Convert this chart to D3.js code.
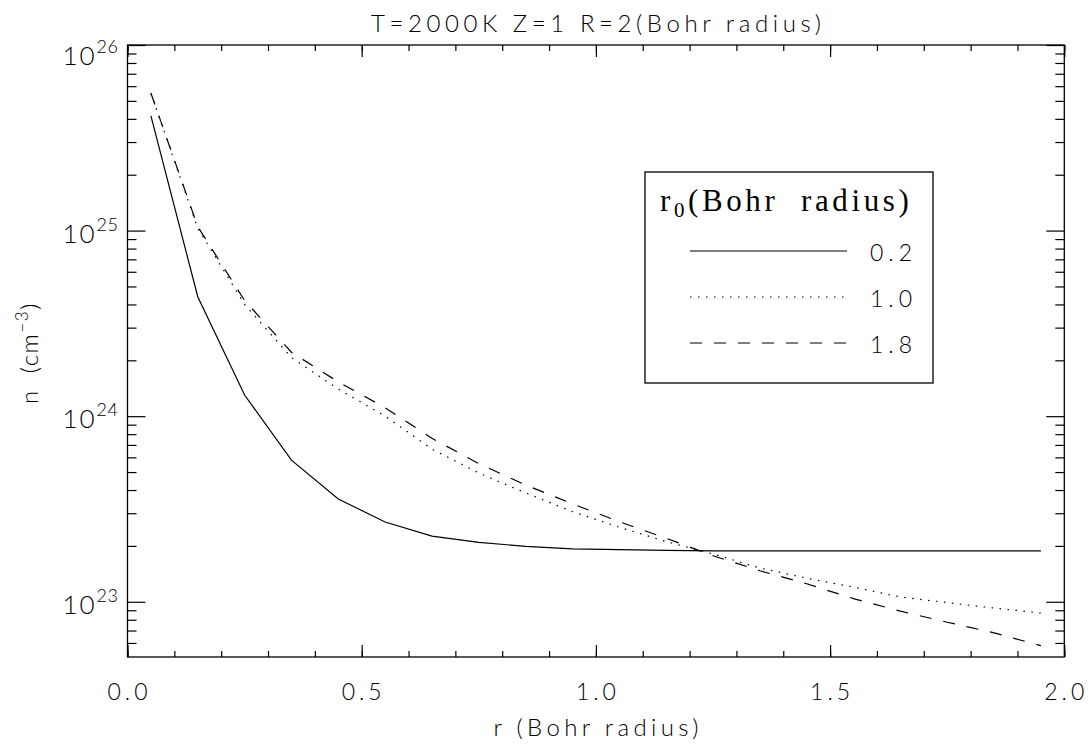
<!DOCTYPE html>
<html>
<head>
<meta charset="utf-8">
<script src="https://cdn.jsdelivr.net/npm/d3@7"></script>
<style>
  body { margin: 0; background: #fff; }
  svg { display: block; }
  text { font-family: Lato, "DejaVu Sans", sans-serif; font-weight: 300; fill: #000; }
  .legtitle { font-family: "Liberation Serif", "DejaVu Serif", serif; font-weight: 400; white-space: pre; }
  .ytitle { white-space: pre; }
</style>
</head>
<body>
<svg width="1092" height="746"></svg>
<script>
// radius points (Bohr radius)
const rVals = [0.05, 0.15, 0.25, 0.35, 0.45, 0.55, 0.65, 0.75, 0.85, 0.95,
               1.05, 1.15, 1.25, 1.35, 1.45, 1.55, 1.65, 1.75, 1.85, 1.95];

// density n (cm^-3) for each r0
const nR02 = [4.15e25, 4.4e24, 1.3e24, 5.8e23, 3.58e23, 2.69e23, 2.26e23, 2.09e23, 1.99e23, 1.93e23,
              1.91e23, 1.89e23, 1.88e23, 1.88e23, 1.88e23, 1.88e23, 1.88e23, 1.88e23, 1.88e23, 1.88e23];
const nR10 = [5.5e25, 1.03e25, 4.0e24, 2.07e24, 1.40e24, 1.0e24, 6.65e23, 4.94e23, 3.86e23, 3.06e23,
              2.52e23, 2.11e23, 1.81e23, 1.52e23, 1.34e23, 1.20e23, 1.06e23, 9.9e22, 9.25e22, 8.7e22];
const nR18 = [5.5e25, 1.05e25, 4.2e24, 2.21e24, 1.53e24, 1.11e24, 7.6e23, 5.55e23, 4.26e23, 3.37e23,
              2.70e23, 2.20e23, 1.77e23, 1.47e23, 1.25e23, 1.04e23, 8.9e22, 7.76e22, 6.8e22, 5.8e22];

const seriesNames = ['0.2', '1.0', '1.8'];
const seriesVals = [nR02, nR10, nR18];
const dashes = [null, '1.5,6.5', '12,12'];

const xMajor = ['0.0', '0.5', '1.0', '1.5', '2.0'];
const yMajorExp = [23, 24, 25, 26];

const svg = d3.select('svg');
const margin = {top: 45, right: 27.7, bottom: 89, left: 127.5};
const width = +svg.attr('width');
const height = +svg.attr('height');
const innerW = width - margin.left - margin.right;
const innerH = height - margin.top - margin.bottom;

const g = svg.append('g')
  .attr('transform', `translate(${margin.left},${margin.top})`);

//scales
const x = d3.scaleLinear().domain([0, 2]).range([0, innerW]);
const y = d3.scaleLog().domain([5.04e22, 1e26]).range([innerH, 0]);

//tick positions
const xMinor = d3.range(0, 21).map(i => i / 10);
const yMinor = [];
[22, 23, 24, 25].forEach(e => {
  for (let k = 2; k <= 9; k++) {
    const v = k * Math.pow(10, e);
    if (v >= 5.04e22 && v <= 1e26) yMinor.push(v);
  }
});
const yMajor = yMajorExp.map(e => Math.pow(10, e));

//helper to style axis
const styleAxis = sel => {
  sel.select('.domain').remove();
  sel.selectAll('.tick line').attr('stroke', '#000').attr('stroke-width', 1.2);
  sel.selectAll('.tick text').remove();
};

//x axes bottom & top (major + minor)
g.append('g').attr('transform', `translate(0,${innerH})`)
  .call(d3.axisBottom(x).tickValues(xMinor).tickSize(-6)).call(styleAxis);
g.append('g').attr('transform', `translate(0,${innerH})`)
  .call(d3.axisBottom(x).tickValues(xMajor.map(Number)).tickSize(-12)).call(styleAxis);
g.append('g')
  .call(d3.axisTop(x).tickValues(xMinor).tickSize(-6)).call(styleAxis);
g.append('g')
  .call(d3.axisTop(x).tickValues(xMajor.map(Number)).tickSize(-12)).call(styleAxis);

//y axes left & right
g.append('g').call(d3.axisLeft(y).tickValues(yMinor).tickSize(-9)).call(styleAxis);
g.append('g').call(d3.axisLeft(y).tickValues(yMajor).tickSize(-18)).call(styleAxis);
g.append('g').attr('transform', `translate(${innerW},0)`)
  .call(d3.axisRight(y).tickValues(yMinor).tickSize(-9)).call(styleAxis);
g.append('g').attr('transform', `translate(${innerW},0)`)
  .call(d3.axisRight(y).tickValues(yMajor).tickSize(-18)).call(styleAxis);

//frame
g.append('rect')
  .attr('width', innerW).attr('height', innerH)
  .attr('fill', 'none').attr('stroke', '#000').attr('stroke-width', 1.3);

//x tick labels
g.selectAll('.xlab').data(xMajor).enter().append('text')
  .attr('class', 'xlab')
  .attr('x', d => x(+d))
  .attr('y', innerH + 43)
  .attr('text-anchor', 'middle')
  .attr('font-size', 23)
  .attr('textLength', 40)
  .text(d => d);

//y tick labels 10^n
const ylab = g.selectAll('.ylab').data(yMajorExp).enter().append('text')
  .attr('class', 'ylab')
  .attr('x', -9)
  .attr('y', d => y(Math.pow(10, d)) + (d === 26 ? 20 : 12))
  .attr('text-anchor', 'end')
  .attr('font-size', 26);
ylab.append('tspan').attr('letter-spacing', 2).text('10');
ylab.append('tspan').attr('dy', -12).attr('font-size', 18).attr('letter-spacing', 0.5).text(d => d);

//lines
const line = d3.line()
  .x((d, i) => x(rVals[i]))
  .y(d => y(d));

g.selectAll('.series').data(seriesVals).enter().append('path')
  .attr('class', 'series')
  .attr('d', line)
  .attr('fill', 'none')
  .attr('stroke', '#000')
  .attr('stroke-width', 1.2)
  .attr('stroke-dasharray', (d, i) => dashes[i]);

//title and axis labels
svg.append('text')
  .attr('x', margin.left + innerW / 2)
  .attr('y', 32)
  .attr('text-anchor', 'middle')
  .attr('font-size', 24)
  .attr('textLength', 450)
  .text('T=2000K Z=1 R=2(Bohr radius)');

svg.append('text')
  .attr('x', margin.left + innerW / 2)
  .attr('y', 736)
  .attr('text-anchor', 'middle')
  .attr('font-size', 24)
  .attr('textLength', 205)
  .text('r (Bohr radius)');

const ytitle = svg.append('text')
  .attr('class', 'ytitle')
  .attr('transform', `translate(38,${margin.top + innerH / 2 + 2}) rotate(-90)`)
  .attr('text-anchor', 'middle')
  .attr('font-size', 24)
  .attr('letter-spacing', 1.5);
ytitle.append('tspan').text('n  (cm');
ytitle.append('tspan').attr('dy', -10).attr('font-size', 17).text('−3');
ytitle.append('tspan').attr('dy', 10).text(')');

//legend
const leg = svg.append('g').attr('transform', 'translate(645,172)');
leg.append('rect')
  .attr('width', 288).attr('height', 211)
  .attr('fill', '#fff').attr('stroke', '#000').attr('stroke-width', 1.3);

const lt = leg.append('text').attr('class', 'legtitle')
  .attr('x', 15).attr('y', 39).attr('font-size', 31)
  .attr('letter-spacing', 3.6);
lt.append('tspan').text('r');
lt.append('tspan').attr('dy', 6).attr('font-size', 21).text('0');
lt.append('tspan').attr('dy', -6).text('(Bohr  radius)');

const rows = leg.selectAll('.row').data(seriesNames).enter().append('g')
  .attr('class', 'row')
  .attr('transform', (d, i) => `translate(0,${79 + i * 46})`);
rows.append('line')
  .attr('x1', 45).attr('x2', 202)
  .attr('stroke', '#000').attr('stroke-width', 1.2)
  .attr('stroke-dasharray', (d, i) => dashes[i]);
rows.append('text')
  .attr('x', 225).attr('y', 10)
  .attr('font-size', 23)
  .attr('textLength', 42)
  .text(d => d);
</script>
</body>
</html>
